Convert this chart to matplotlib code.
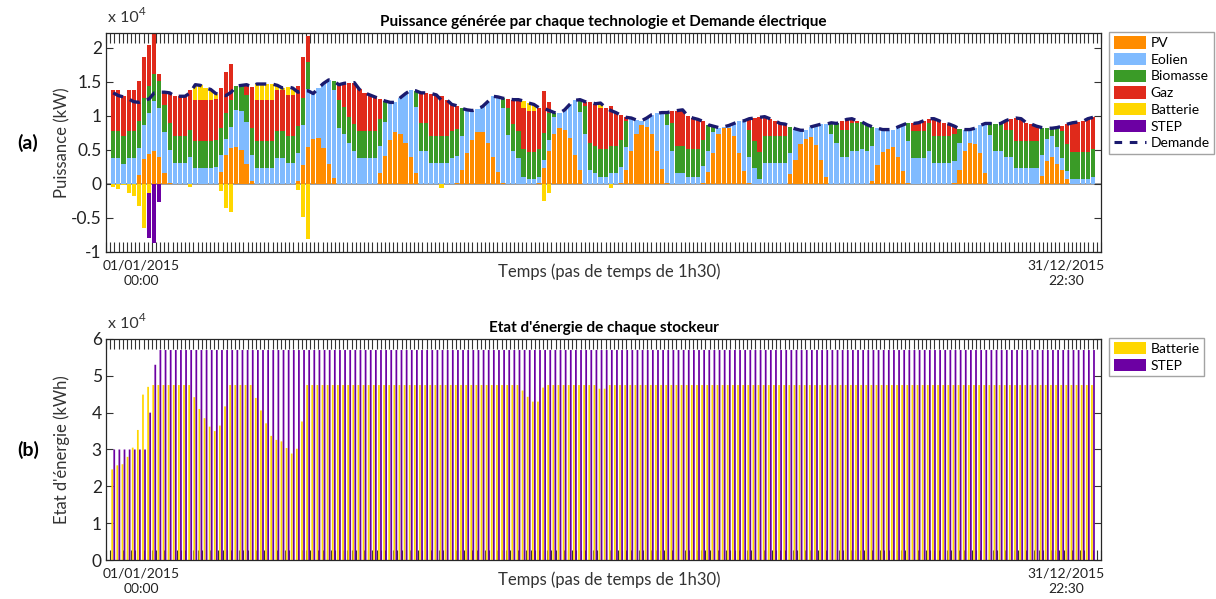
import matplotlib.pyplot as plt
import matplotlib.patches as mpatches
import matplotlib.lines as mlines
import numpy as np

plt.rcParams['font.family'] = ['Lato', 'DejaVu Sans']

# Puissance par pas de temps (kW), 12 journees types x 16 pas de 1h30
pv = [0, 0, 0, 0, 0, 1300, 3700, 4400, 4900, 3900, 1600, 200, 0, 0, 0, 0,
      0, 0, 0, 0, 0, 1800, 4300, 5300, 5500, 5000, 2900, 400, 0, 0, 0, 0,
      0, 0, 0, 0, 500, 2800, 5400, 6600, 6700, 5300, 3000, 900, 0, 0, 0, 0,
      0, 0, 0, 0, 1600, 4100, 6500, 7700, 7300, 6000, 3900, 1600, 0, 0, 0, 0,
      0, 0, 0, 100, 2100, 4500, 6500, 7700, 7700, 6100, 4000, 1800, 100, 0, 0, 0,
      0, 0, 0, 200, 2400, 4800, 7400, 8200, 8000, 6700, 4300, 2000, 0, 0, 0, 0,
      0, 0, 0, 100, 2100, 4800, 7400, 8600, 8400, 7400, 4900, 2200, 100, 0, 0, 0,
      0, 0, 0, 100, 1800, 4500, 7300, 8200, 8300, 7100, 4500, 1900, 100, 0, 0, 0,
      0, 0, 0, 0, 1400, 3600, 5900, 6600, 6900, 5700, 3500, 1000, 0, 0, 0, 0,
      0, 0, 0, 0, 500, 2800, 4700, 5200, 5400, 4000, 1900, 200, 0, 0, 0, 0,
      0, 0, 0, 0, 100, 2100, 4900, 6000, 5900, 4500, 1600, 0, 0, 0, 0, 0,
      0, 0, 0, 0, 0, 1200, 3400, 3900, 3000, 2100, 700, 0, 0, 0, 0, 0]

eolien = [3800, 3800, 3000, 3800, 3800, 4000, 5000, 6000, 7300, 7300, 6000, 4800, 3100, 3100, 3100, 3900,
          2400, 2400, 2400, 2400, 2500, 2400, 2300, 3100, 5400, 5800, 6200, 3900, 2400, 2400, 2400, 2400,
          3800, 3800, 3100, 3100, 4000, 5900, 8500, 6700, 7400, 9500, 12300, 12900, 8300, 7300, 6000, 4900,
          3800, 3800, 3800, 3800, 4000, 5000, 5500, 4300, 5400, 7300, 9900, 9700, 4900, 4900, 3100, 3100,
          3100, 3100, 3800, 4000, 5000, 6400, 4300, 3300, 3700, 6000, 8900, 11000, 11000, 7200, 4900, 3800,
          1100, 700, 700, 900, 1100, 1700, 2500, 2200, 2900, 5000, 8000, 8600, 7400, 2100, 1600, 1100,
          1100, 1600, 1600, 2400, 3300, 4900, 2000, 700, 1300, 2800, 5500, 8300, 8500, 4900, 1600, 1600,
          1100, 1100, 1100, 2500, 3100, 3200, 1000, 200, 300, 1800, 4700, 7400, 3900, 2400, 700, 3100,
          3100, 3100, 3100, 3100, 3200, 4500, 2000, 1300, 1500, 2900, 5300, 7800, 7300, 6000, 3900, 3900,
          4900, 4900, 5100, 4900, 5100, 5400, 3300, 2800, 2600, 4400, 6800, 6100, 3800, 3800, 3800, 4900,
          3100, 3100, 3100, 3100, 3300, 4000, 3100, 2000, 2300, 4100, 7300, 7200, 4900, 4900, 3900, 3900,
          2400, 2400, 2400, 2400, 2400, 3100, 3200, 3200, 2500, 1700, 1200, 700, 700, 700, 700, 1100]

biomasse = [4000, 4000, 4000, 4000, 4000, 3900, 4000, 4000, 4000, 4000, 4000, 3900, 4000, 4000, 4000, 4000,
            3900, 3900, 3900, 3900, 4000, 4000, 3900, 4000, 3500, 3700, 4000, 4000, 3900, 3900, 3900, 3900,
            4000, 4000, 4000, 4000, 4000, 4000, 4000, 0, 0, 0, 0, 1300, 4000, 4000, 3900, 3900,
            4000, 4000, 4000, 4000, 4000, 3100, 0, 0, 0, 0, 0, 2400, 4000, 4000, 4000, 4000,
            4000, 4000, 4000, 4000, 4000, 0, 0, 0, 0, 0, 0, 0, 1500, 3900, 3900, 4000,
            4000, 4000, 4000, 4000, 4000, 3900, 600, 0, 0, 0, 0, 1800, 4000, 3900, 4000, 4000,
            4000, 4000, 4000, 3900, 3900, 0, 0, 0, 0, 0, 0, 0, 1900, 4000, 4000, 4000,
            4000, 4000, 4000, 3900, 3800, 800, 0, 0, 0, 0, 0, 0, 4000, 3900, 4000, 4000,
            4000, 4000, 4000, 4000, 3800, 0, 0, 0, 0, 0, 0, 0, 1700, 2900, 4000, 4000,
            4000, 4000, 4000, 3800, 2800, 0, 0, 0, 0, 0, 0, 2700, 4000, 4000, 4000, 4000,
            4000, 4000, 4000, 4000, 4000, 2000, 0, 0, 0, 0, 0, 1700, 3900, 4000, 4000, 4000,
            3900, 3900, 3900, 3900, 3900, 4000, 1600, 1100, 2800, 4000, 4000, 4000, 4000, 4000, 4000, 4000]

gaz = [6000, 6000, 6000, 6000, 6000, 6000, 6000, 6000, 5900, 1000, 1900, 4500, 5800, 5800, 5800, 5900,
       6100, 6100, 6100, 6100, 6000, 5900, 6000, 5200, 0, 0, 1500, 6000, 6100, 6100, 6100, 6100,
       6000, 6000, 6000, 6000, 5900, 5900, 3900, 0, 0, 0, 0, 0, 2300, 3500, 5000, 6100,
       6100, 5600, 5300, 5000, 2900, 0, 0, 0, 0, 0, 0, 0, 4500, 4500, 6200, 6000,
       5800, 5300, 3900, 3400, 0, 0, 0, 0, 0, 0, 0, 0, 0, 1400, 3600, 4600,
       6100, 6100, 6100, 6100, 6100, 1700, 0, 0, 0, 0, 0, 0, 700, 6000, 6200, 6100,
       6100, 5800, 4900, 3700, 500, 0, 0, 0, 0, 0, 0, 0, 0, 1800, 5200, 5300,
       4900, 4600, 4400, 2700, 0, 0, 0, 0, 0, 0, 0, 0, 1600, 3400, 5100, 2800,
       2500, 2200, 1800, 1700, 0, 0, 0, 0, 0, 0, 0, 0, 0, 0, 1300, 1600,
       700, 400, 0, 0, 0, 0, 0, 0, 0, 0, 0, 0, 1100, 1200, 1500, 700,
       2500, 2200, 1800, 1700, 1100, 0, 0, 0, 0, 0, 0, 0, 0, 0, 1400, 1700,
       3400, 3300, 2700, 2500, 2200, 0, 0, 0, 0, 700, 2900, 4300, 4400, 4500, 4900, 4700]

batterie = [-400, -800, -200, -1300, -1700, -3200, -6400, -1300, 0, 0, 0, 0, 0, 0, 0, -400,
            2200, 2100, 1700, 1500, 800, -1000, -3500, -4100, 0, 0, 0, 0, 2300, 2300, 2300, 2300,
            700, 300, 1200, 1000, -900, -4900, -8100, 0, 0, 0, 0, 0, 0, 0, 0, 0,
            0, 0, 0, 0, 0, 0, 0, 0, 0, 0, 0, 0, 0, 0, 0, 0,
            -600, 0, 0, 0, 0, 0, 0, 0, 0, 0, 0, 0, 0, 0, 0, 0,
            1000, 1100, 900, 0, -2500, -1300, 0, 0, 0, 0, 0, 0, 0, 0, 0, 700,
            0, -600, 0, 0, 0, 0, 0, 0, 0, 0, 0, 0, 0, 0, 0, 0] + [0] * 80

step = [0, 0, 0, 0, 0, 0, 0, -6600, -8700, -2700] + [0] * 182

# Etat d'energie des stockeurs (kWh)
soe_batterie = ([24600, 25700, 26000, 28000, 30500, 35300, 44900, 47000] + [47500] * 8 +
                [44200, 41000, 38500, 36200, 35000, 36500, 41700, 47500,
                 47500, 47500, 47500, 47500, 44000, 40600, 37100, 33700,
                 32600, 32200, 30400, 28900, 30200, 37600, 47500] + [47500] * 41 +
                [46000, 44300, 43000, 43000, 46800] + [47500] * 10 +
                [46500, 46500] + [47500] * 95)
soe_step = [30000] * 7 + [40000, 53000] + [57000] * 183

series = [("PV", pv, "#ff8c00"),
          ("Eolien", eolien, "#80bbff"),
          ("Biomasse", biomasse, "#3a9b27"),
          ("Gaz", gaz, "#e02a1b"),
          ("Batterie", batterie, "#ffd700"),
          ("STEP", step, "#6c00a3")]

n = len(pv)
x = np.arange(1, n + 1)
xlim = (-0.4, n + 1.56)
demande = np.sum([np.array(s[1]) for s in series], axis=0)

fig = plt.figure(figsize=(12.16, 5.99), dpi=100)
ax1 = fig.add_axes([0.0872, 0.5793, 0.8182, 0.3656])
ax2 = fig.add_axes([0.0872, 0.0651, 0.8182, 0.3690])

# barres empilees, positifs et negatifs separes
pos_bottom = np.zeros(n)
neg_bottom = np.zeros(n)
handles = []
for name, vals, col in series:
    v = np.array(vals, dtype=float)
    vp = np.where(v > 0, v, 0)
    vn = np.where(v < 0, v, 0)
    ax1.bar(x, vp, 0.82, bottom=pos_bottom, color=col, linewidth=0)
    ax1.bar(x, vn, 0.82, bottom=neg_bottom, color=col, linewidth=0)
    pos_bottom += vp
    neg_bottom += vn
    handles.append(mpatches.Patch(facecolor=col, edgecolor='none', label=name))

ax1.axhline(0, color='#8c8c8c', lw=1.2, zorder=0.5)
ax1.plot(x, demande, color='#1a1a6e', lw=2.4, ls=(0, (3.2, 2.2)), zorder=5)
handles.append(mlines.Line2D([], [], color='#1a1a6e', lw=2.2, ls=(0, (2.5, 2.5)), label='Demande'))

ax2.bar(x - 0.2, soe_batterie, 0.34, color="#ffd700", linewidth=0, snap=False)
ax2.bar(x + 0.2, soe_step, 0.34, color="#6c00a3", linewidth=0, snap=False)

for ax in (ax1, ax2):
    ax.set_axisbelow(True)
    ax.set_xlim(*xlim)
    ax.set_xticks(np.linspace(xlim[0], xlim[1], 240))
    ax.set_xticklabels([])
    ax.tick_params(axis='x', which='both', direction='in', length=7, width=0.8,
                   color='#333333', top=True, bottom=True)
    ax.tick_params(axis='y', direction='in', length=5, width=0.8, color='#333333',
                   right=True, labelsize=12.5, pad=3, labelcolor='#222222')
    for sp in ax.spines.values():
        sp.set_color('#262626')
        sp.set_linewidth(0.9)
        sp.set_zorder(3)

ax1.set_ylim(-10000, 22200)
ax1.set_yticks(np.arange(-10000, 20001, 5000))
ax1.set_yticklabels(['-1', '-0.5', '0', '0.5', '1', '1.5', '2'])
ax2.set_ylim(0, 60000)
ax2.set_yticks(np.arange(0, 60001, 10000))
ax2.set_yticklabels(['0', '1', '2', '3', '4', '5', '6'])

ax1.set_title("Puissance générée par chaque technologie et Demande électrique",
              fontweight='bold', fontsize=11, pad=5)
ax2.set_title("Etat d'énergie de chaque stockeur", fontweight='bold', fontsize=11, pad=5)

leg_kw = dict(loc='upper left', frameon=True, fancybox=False, fontsize=10,
              handlelength=2.35, handleheight=1.0, labelspacing=0.27, handletextpad=0.3,
              borderpad=0.3, borderaxespad=0, edgecolor='#8c8c8c')
l1 = ax1.legend(handles=handles, bbox_to_anchor=(1.0085, 1.005), **leg_kw)
l1.get_frame().set_linewidth(1.0)
h2 = [mpatches.Patch(facecolor="#ffd700", label="Batterie"),
      mpatches.Patch(facecolor="#6c00a3", label="STEP")]
l2 = ax2.legend(handles=h2, bbox_to_anchor=(1.0085, 1.005), **leg_kw)
l2.get_frame().set_linewidth(1.0)

W, H = 1216, 599
def ftext(px, py, s, **kw):
    fig.text(px / W, 1 - py / H, s, **kw)

for top, bot, lab, tag, ylab in ((33, 252, 'x 10', '(a)', 'Puissance (kW)'),
                                  (339, 560, 'x 10', '(b)', "Etat d'énergie (kWh)")):
    ftext(108, top - 8, lab, fontsize=11.5, color='#333333', va='bottom', ha='left')
    ftext(139, top - 16, '4', fontsize=8.5, color='#333333', va='bottom', ha='left')
    ftext(28, (top + bot) / 2, tag, fontsize=14, fontweight='bold', ha='center', va='center')
    ftext(62, (top + bot) / 2, ylab, fontsize=12, rotation=90, ha='center', va='center',
          color='#333333')
    ftext(609, bot + 20, 'Temps (pas de temps de 1h30)', fontsize=12, ha='center',
          va='center', color='#333333')
    ftext(103, bot + 8, '01/01/2015\n00:00', fontsize=10, ha='left', va='top',
          multialignment='center', linespacing=1.3, color='#222222')
    ftext(1105, bot + 8, '31/12/2015\n22:30', fontsize=10, ha='right', va='top',
          multialignment='center', linespacing=1.3, color='#222222')

fig.savefig('out.png', dpi=100)
